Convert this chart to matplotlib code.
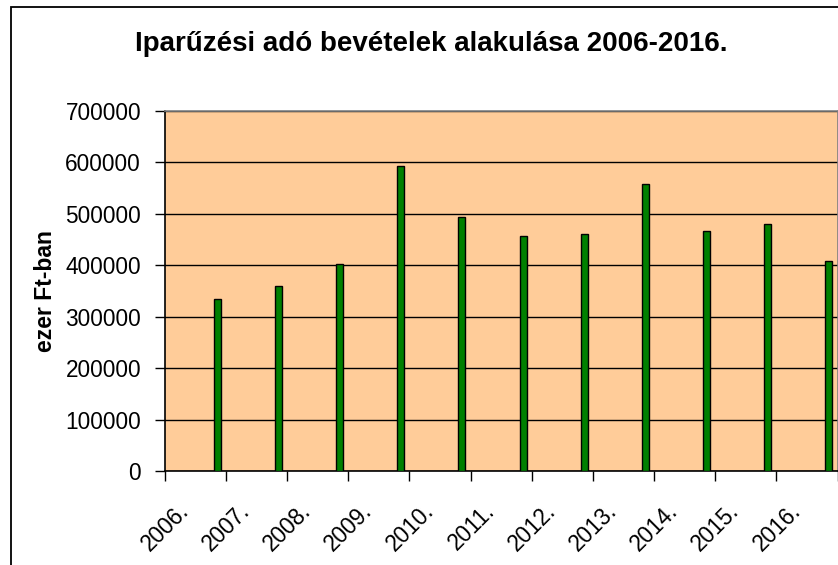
import matplotlib
matplotlib.use("Agg")
import matplotlib.pyplot as plt
from matplotlib.patches import Rectangle
from matplotlib import transforms
import numpy as np

years = ["2006.", "2007.", "2008.", "2009.", "2010.", "2011.",
         "2012.", "2013.", "2014.", "2015.", "2016."]
values = [334500, 360000, 402500, 593000, 493500, 457500,
          460000, 557500, 466000, 479500, 407500]
yticks = [0, 100000, 200000, 300000, 400000, 500000, 600000, 700000]

plt.rcParams['font.family'] = ['Liberation Sans', 'DejaVu Sans']

W, H = 838, 565
fig = plt.figure(figsize=(W / 100, H / 100), dpi=100)
fig.patch.set_facecolor('white')

# chart frame (extends beyond right/bottom edges of the image)
fig.patches.append(Rectangle((11 / W, -0.2), 1.5, 1.2 - 7 / H + 0.0,
                             transform=fig.transFigure, fill=False,
                             edgecolor='black', linewidth=1.3))

left, right, top, bottom = 164.7, 837.5, 111, 471
ax = fig.add_axes([left / W, 1 - bottom / H, (right - left) / W, (bottom - top) / H])
ax.set_facecolor('#FFCC99')

n = len(years)
x = np.arange(n) + 0.86
ax.bar(x, values, width=0.115, color='#008000', edgecolor='black', linewidth=1.0, zorder=3)

ax.set_xlim(0, n)
ax.set_ylim(0, 700000)
ax.set_yticks(yticks)
ax.set_yticklabels([str(v) for v in yticks], fontsize=16.3)
ax.yaxis.grid(True, color='black', linewidth=1.0, zorder=1)
ax.set_axisbelow(True)

ax.set_xticks(np.arange(n + 1))
ax.set_xticklabels([])
ax.set_xticks(np.arange(n) + 0.5, minor=True)
ax.set_xticklabels(years, minor=True, fontsize=16.3, rotation=45,
                   ha='right', va='center', rotation_mode='anchor')
ax.tick_params(axis='x', which='minor', length=0, pad=26)
ax.tick_params(axis='x', which='major', length=7, width=1, color='black', direction='out')
ax.tick_params(axis='y', length=7, width=1, color='black', direction='out', pad=10)

offset = transforms.ScaledTranslation(-10 / 100, 0, fig.dpi_scale_trans)
for lab in ax.get_xticklabels(minor=True):
    lab.set_transform(lab.get_transform() + offset)

for s in ['left', 'bottom']:
    ax.spines[s].set_color('black')
    ax.spines[s].set_linewidth(1.2)
for s in ['top', 'right']:
    ax.spines[s].set_color('#808080')
    ax.spines[s].set_linewidth(1.2)

fig.text(431 / W, 1 - 44 / H, "Iparűzési adó bevételek alakulása 2006-2016.",
         ha='center', va='center', fontsize=20, fontweight='bold')
fig.text(45 / W, 1 - 291 / H, "ezer Ft-ban", ha='center', va='center',
         rotation=90, fontsize=16.5, fontweight='bold')

fig.savefig("out.png", dpi=100, facecolor='white')
